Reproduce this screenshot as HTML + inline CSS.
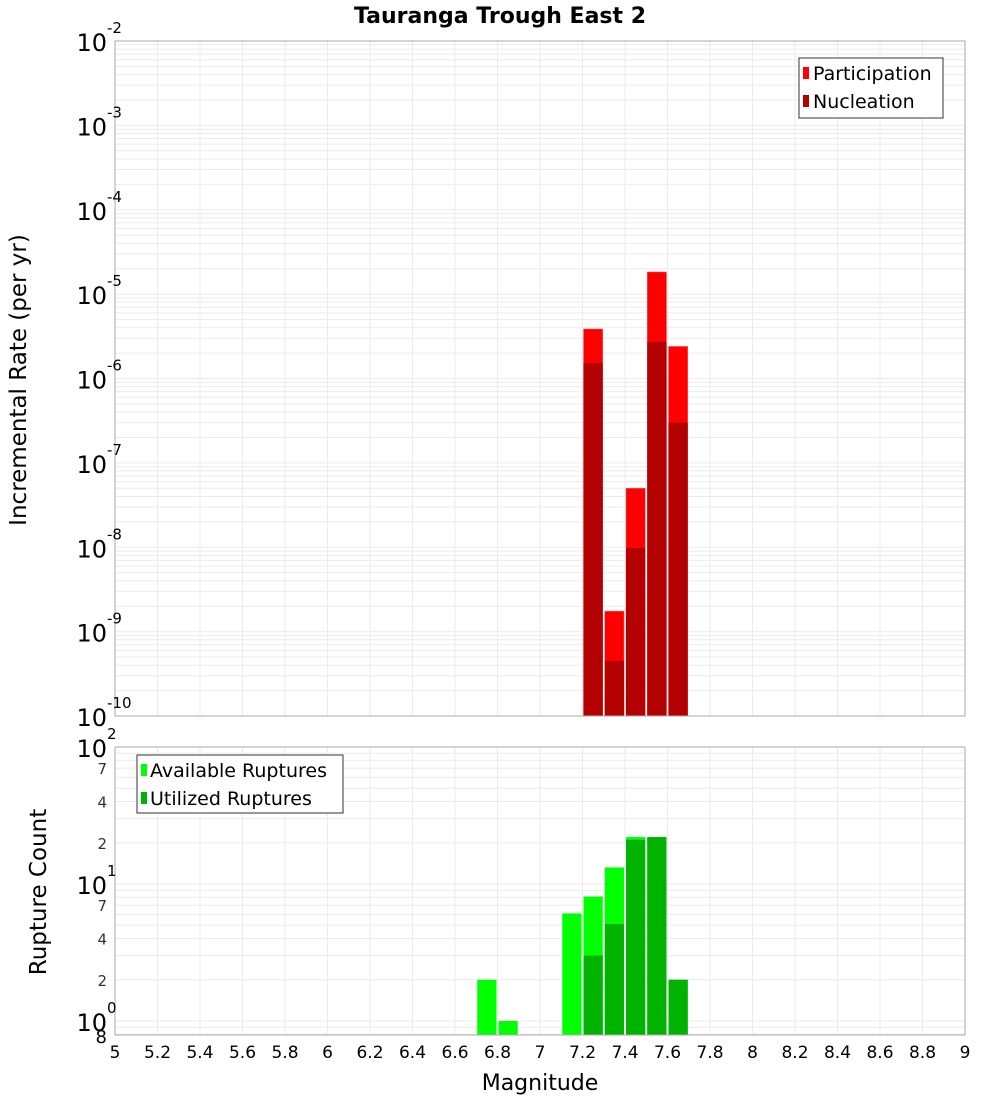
<!DOCTYPE html>
<html><head><meta charset="utf-8"><style>body{margin:0;background:#fff}svg{display:block;font-family:"DejaVu Sans","Liberation Sans",sans-serif}</style></head>
<body>
<svg id="c" width="1000" height="1100" xmlns="http://www.w3.org/2000/svg"></svg>
<script>
const binCenters=[7.25,7.35,7.45,7.55,7.65];
const participation=[3.86e-6,1.75e-9,5.0e-8,1.83e-5,2.4e-6];
const nucleation=[1.53e-6,4.5e-10,9.8e-9,2.7e-6,3.0e-7];
const countCenters=[6.75,6.85,7.15,7.25,7.35,7.45,7.55,7.65];
const available=[2,1,6.1,8.1,13.2,22,22,2];
const utilized=[0,0,0,3,5.1,21,22,2];
const xTicks=[5,5.2,5.4,5.6,5.8,6,6.2,6.4,6.6,6.8,7,7.2,7.4,7.6,7.8,8,8.2,8.4,8.6,8.8,9];
const topDecades=[-2,-3,-4,-5,-6,-7,-8,-9,-10];
const botDecades=[2,1,0];
const botMinor=[7,4,2];

const svg=document.getElementById('c');const NS='http://www.w3.org/2000/svg';
function el(t,a,p){const e=document.createElementNS(NS,t);for(const k in a)e.setAttribute(k,a[k]);(p||svg).appendChild(e);return e;}
const X0=115,X1=965;
const xs=m=>X0+(m-5)/4*(X1-X0);
const T0=41,T1=716;
const yT=v=>T0+(-2-Math.log10(v))/8*(T1-T0);
const B0=747,B1=1035,BD=137;
const yB=v=>B0+(2-Math.log10(v))*BD;

// top panel
const tp=el('g',{});
el('rect',{x:X0,y:T0,width:X1-X0,height:T1-T0,fill:'#fff'},tp);
for(let d=-10;d<-2;d++)for(let k=1;k<10;k++){const y=yT(k*Math.pow(10,d));el('line',{x1:X0,x2:X1,y1:y,y2:y,stroke:'#ebebeb','stroke-width':1},tp);}
xTicks.forEach(t=>{const x=xs(t);el('line',{x1:x,x2:x,y1:T0,y2:T1,stroke:'#ebebeb'},tp);});
binCenters.forEach((m,i)=>{
 const x=xs(m-0.05)+1,w=xs(m+0.05)-xs(m-0.05)-2;
 const b1=el('rect',{x:x,y:yT(participation[i]),width:w,height:T1-yT(participation[i]),fill:'#ff0000',stroke:'#ff6666','stroke-width':0.5},tp);
 
 const b2=el('rect',{x:x,y:yT(nucleation[i]),width:w,height:T1-yT(nucleation[i]),fill:'#b30000'},tp);
 
});
el('rect',{x:X0,y:T0,width:X1-X0,height:T1-T0,fill:'none',stroke:'#aaa'},tp);
topDecades.forEach(d=>{const y=yT(Math.pow(10,d));
 const t=el('text',{x:107,y:y+10,'text-anchor':'end','font-size':24,fill:'#000'},tp);t.textContent='10';
 const s=el('text',{x:107,y:y-8,'font-size':15,fill:'#000'},tp);s.textContent=String(d);
});
// bottom panel
const bp=el('g',{});
for(let d=-1;d<2;d++)for(let k=1;k<10;k++){const v=k*Math.pow(10,d);const y=yB(v);if(y>B1||y<B0)continue;el('line',{x1:X0,x2:X1,y1:y,y2:y,stroke:'#ebebeb'},bp);}
xTicks.forEach(t=>{const x=xs(t);el('line',{x1:x,x2:x,y1:B0,y2:B1,stroke:'#ebebeb'},bp);});
countCenters.forEach((m,i)=>{
 const x=xs(m-0.05)+1,w=xs(m+0.05)-xs(m-0.05)-2;
 const a=el('rect',{x:x,y:yB(available[i]),width:w,height:B1-yB(available[i]),fill:'#00ff00'},bp);
 
 if(utilized[i]>0){const u=el('rect',{x:x,y:yB(utilized[i]),width:w,height:B1-yB(utilized[i]),fill:'#00b300'},bp);
 }
});
el('rect',{x:X0,y:B0,width:X1-X0,height:B1-B0,fill:'none',stroke:'#aaa'},bp);
botDecades.forEach(d=>{const y=yB(Math.pow(10,d));
 const t=el('text',{x:107,y:y+10,'text-anchor':'end','font-size':24},bp);t.textContent='10';
 const s=el('text',{x:107,y:y-8,'font-size':15},bp);s.textContent=String(d);
 if(d>0)botMinor.forEach(k=>{const v=k*Math.pow(10,d-1);const yy=yB(v);const m=el('text',{x:107,y:yy+6,'text-anchor':'end','font-size':15,fill:'#333'},bp);m.textContent=String(k);});
});
const e8=el('text',{x:107,y:1043,'text-anchor':'end','font-size':18},bp);e8.textContent='8';
xTicks.forEach(t=>{const tx=el('text',{x:xs(t),y:1058,'text-anchor':'middle','font-size':17},bp);tx.textContent=String(t);});
</script>
<svg style="position:absolute;left:0;top:0" width="1000" height="1100" xmlns="http://www.w3.org/2000/svg" font-family="DejaVu Sans, Liberation Sans, sans-serif">
<text x="500" y="23" text-anchor="middle" font-size="22" font-weight="bold">Tauranga Trough East 2</text>
<text transform="translate(26,380) rotate(-90)" text-anchor="middle" font-size="23">Incremental Rate (per yr)</text>
<text transform="translate(46,892) rotate(-90)" text-anchor="middle" font-size="23">Rupture Count</text>
<text x="540" y="1090" text-anchor="middle" font-size="22">Magnitude</text>
<g>
<rect x="799" y="58" width="144" height="60" fill="#fff" stroke="#333"/>
<rect x="803" y="67" width="6" height="12" fill="#ff0000"/><text x="813" y="80" font-size="19">Participation</text>
<rect x="803" y="95" width="6" height="12" fill="#b30000"/><text x="813" y="108" font-size="19">Nucleation</text>
</g>
<g>
<rect x="137" y="755" width="206" height="58" fill="#fff" stroke="#333"/>
<rect x="141" y="764" width="6" height="12" fill="#00ff00"/><text x="150" y="777" font-size="19">Available Ruptures</text>
<rect x="141" y="792" width="6" height="12" fill="#00b300"/><text x="150" y="805" font-size="19">Utilized Ruptures</text>
</g>
</svg>
</body></html>
